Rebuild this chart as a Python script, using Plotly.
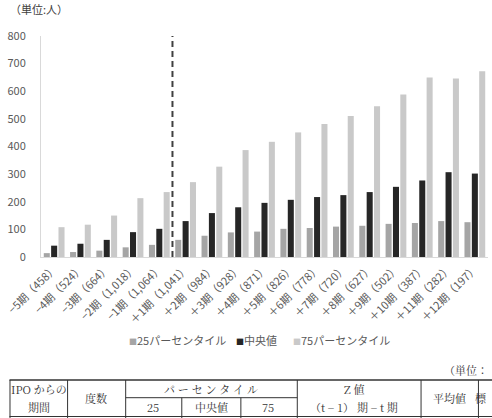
import plotly.graph_objects as go

categories = ["−5期（458）", "−4期（524）", "−3期（664）", "−2期（1,018）", "−1期（1,064）",
              "＋1期（1,041）", "＋2期（984）", "＋3期（928）", "＋4期（871）", "＋5期（826）",
              "＋6期（778）", "＋7期（720）", "＋8期（627）", "＋9期（502）", "＋10期（387）",
              "＋11期（282）", "＋12期（197）"]
p25 = [14, 18, 23, 35, 44, 62, 77, 89, 92, 102, 105, 110, 113, 120, 123, 130, 126]
median = [41, 48, 62, 90, 102, 130, 159, 180, 196, 207, 217, 224, 235, 254, 277, 307, 302]
p75 = [108, 117, 150, 213, 235, 271, 327, 387, 417, 451, 481, 510, 546, 588, 650, 646, 672]
series_names = ["25パーセンタイル", "中央値", "75パーセンタイル"]
series_colors = ["#a5a5a5", "#262626", "#c9c9c9"]
yticks = [0, 100, 200, 300, 400, 500, 600, 700, 800]

W, H = 492, 418
L, R, T, B = 34, 4, 36, 161
PW, PH = W - L - R, H - T - B

def px(x):
    return (x - L) / PW

def py(y):
    return (H - B - y) / PH

FONT = "Noto Sans CJK JP"
SERIF = "Noto Serif CJK JP, Noto Sans CJK JP"

fig = go.Figure()
for name, vals, col in zip(series_names, [p25, median, p75], series_colors):
    fig.add_trace(go.Bar(x=categories, y=vals, name=name, marker_color=col,
                         marker_line_width=0, showlegend=False))

shapes = []
# dashed divider between -1 and +1
shapes.append(dict(type="line", xref="x", yref="y", x0=4.5, x1=4.5, y0=0, y1=805,
                   line=dict(color="#404040", width=2, dash="6px,4px")))

annotations = []
annotations.append(dict(text="（単位:人）", x=px(0), y=py(9), xref="paper", yref="paper",
                        xanchor="left", yanchor="middle", showarrow=False,
                        font=dict(family=FONT, size=11, color="#404040")))

# legend as annotations
leg_items = [(121, 0), (230, 1), (288, 2)]
for xpix, i in leg_items:
    annotations.append(dict(
        text=f'<span style="color:{series_colors[i]};font-size:8px">■</span>{series_names[i]}',
        x=px(xpix), y=py(340), xref="paper", yref="paper", xanchor="left", yanchor="middle",
        showarrow=False, font=dict(family=FONT, size=11, color="#595959")))

# table
def hline(y, x0, x1, w=1):
    shapes.append(dict(type="line", xref="paper", yref="paper", x0=px(x0), x1=px(x1),
                       y0=py(y), y1=py(y), line=dict(color="#333333", width=w)))

def vline(x, y0, y1, w=1):
    shapes.append(dict(type="line", xref="paper", yref="paper", x0=px(x), x1=px(x),
                       y0=py(y0), y1=py(y1), line=dict(color="#333333", width=w)))

hline(380, 2, 495, 1.5)
hline(397.7, 120, 294.3)
hline(416.5, 2, 495)
for xv in [2.5, 61, 120, 294.3, 420, 478.3]:
    vline(xv, 380, 418)
for xv in [177, 237]:
    vline(xv, 397.7, 418)

def tt(text, x, y, size=11, anchor="center"):
    annotations.append(dict(text=text, x=px(x), y=py(y), xref="paper", yref="paper",
                            xanchor=anchor, yanchor="middle", showarrow=False,
                            font=dict(family=SERIF, size=size, color="#333333")))

tt("（単位：", 490, 370, anchor="right")
tt("IPO からの", 32, 389)
tt("期間", 32, 407)
tt("度数", 90, 398)
tt("パ ー セ ン タ イ ル", 207, 389)
tt("25", 148, 407)
tt("中央値", 207, 407)
tt("75", 265, 407)
tt("Z 値", 352, 389)
tt("（t − 1） 期 − t 期", 352, 407)
tt("平均値", 449, 398)
tt("標", 489, 398, anchor="right")

fig.update_layout(
    width=W, height=H, margin=dict(l=L, r=R, t=T, b=B),
    paper_bgcolor="white", plot_bgcolor="white",
    barmode="group", bargap=0.16, bargroupgap=0.18,
    font=dict(family=FONT, size=11, color="#595959"),
    shapes=shapes, annotations=annotations, showlegend=False,
    xaxis=dict(type="category", tickangle=-45, showgrid=False, showline=True,
               linecolor="#d9d9d9", linewidth=1, ticks="", tickfont=dict(size=11, color="#595959")),
    yaxis=dict(range=[0, 800], tickvals=yticks, showgrid=False, showline=True,
               linecolor="#d9d9d9", linewidth=1, zeroline=False, ticks="",
               ticklabelstandoff=12, tickfont=dict(size=11, color="#595959")),
)

fig.write_html("out.html")
